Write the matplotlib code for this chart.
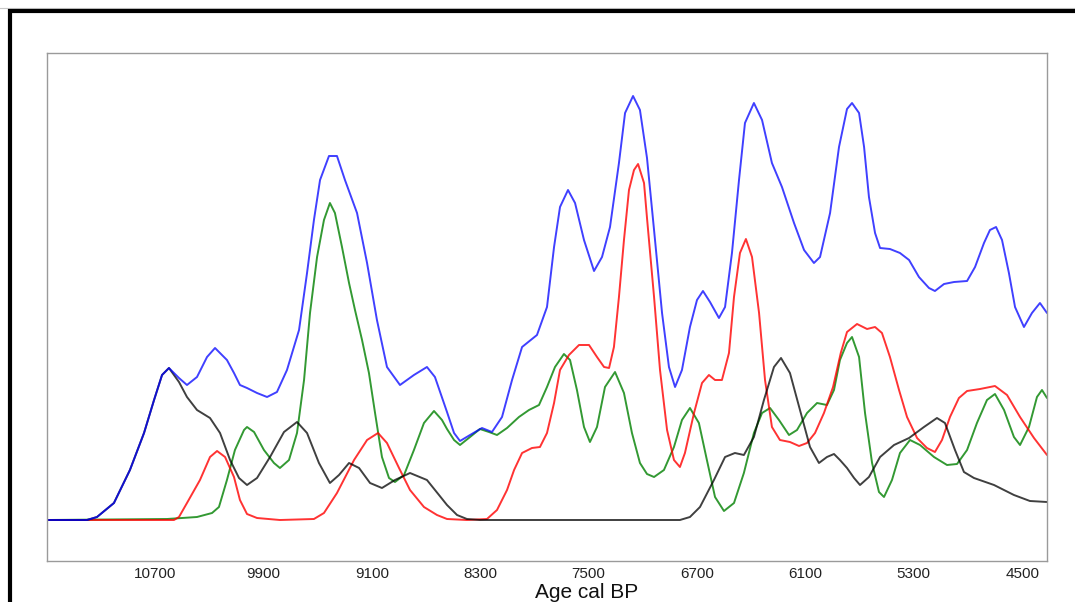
import matplotlib
matplotlib.use("Agg")
import matplotlib.pyplot as plt
from matplotlib.lines import Line2D

plt.rcParams['font.family'] = ['Liberation Sans', 'DejaVu Sans']

# ---- data (age cal BP scale, values = relative summed probability) ----
tick_positions = [10700, 9900, 9100, 8300, 7500, 6700, 5900, 5100, 4300]
tick_labels = ['10700', '9900', '9100', '8300', '7500', '6700', '6100', '5300', '4500']

blue_age = [11497, 11349, 11202, 11128, 11003, 10885, 10781, 10707, 10648, 10597,
            10523, 10464, 10390, 10316, 10257, 10169, 10117, 10073, 10021, 9947,
            9873, 9800, 9726, 9637, 9578, 9527, 9482, 9416, 9357, 9298,
            9209, 9135, 9062, 8988, 8892, 8789, 8693, 8634, 8545, 8493,
            8449, 8375, 8287, 8213, 8139, 8065, 7991, 7881, 7807, 7755,
            7711, 7652, 7600, 7534, 7460, 7401, 7342, 7276, 7231, 7172,
            7121, 7069, 7017, 6958, 6907, 6862, 6811, 6752, 6700, 6656,
            6604, 6538, 6493, 6442, 6390, 6346, 6280, 6220, 6147, 6073,
            5984, 5910, 5837, 5792, 5718, 5652, 5593, 5556, 5504, 5467,
            5431, 5386, 5349, 5276, 5202, 5135, 5062, 4988, 4944, 4877,
            4803, 4707, 4648, 4582, 4538, 4493, 4449, 4398, 4353, 4287,
            4228, 4169, 4117]
blue_val = [0, 0, 0, 0.03, 0.17, 0.50, 0.87, 1.20, 1.45, 1.52,
            1.42, 1.35, 1.43, 1.63, 1.72, 1.60, 1.47, 1.35, 1.32, 1.27,
            1.23, 1.28, 1.50, 1.90, 2.47, 3.00, 3.40, 3.64, 3.64, 3.40,
            3.07, 2.57, 2.00, 1.53, 1.35, 1.45, 1.53, 1.43, 1.08, 0.87,
            0.79, 0.85, 0.92, 0.88, 1.03, 1.40, 1.73, 1.85, 2.13, 2.73,
            3.13, 3.30, 3.17, 2.80, 2.49, 2.63, 2.93, 3.57, 4.07, 4.24,
            4.10, 3.62, 2.90, 2.07, 1.53, 1.33, 1.50, 1.93, 2.20, 2.29,
            2.18, 2.02, 2.13, 2.67, 3.40, 3.97, 4.17, 4.00, 3.57, 3.33,
            2.97, 2.70, 2.57, 2.63, 3.07, 3.73, 4.11, 4.17, 4.07, 3.73,
            3.23, 2.87, 2.72, 2.71, 2.67, 2.60, 2.43, 2.32, 2.29, 2.36,
            2.38, 2.39, 2.53, 2.77, 2.90, 2.93, 2.80, 2.47, 2.13, 1.93,
            2.07, 2.17, 2.07]

black_age = [11497, 11349, 11202, 11128, 11003, 10885, 10781, 10707, 10648, 10597,
             10523, 10464, 10390, 10294, 10220, 10146, 10080, 10021, 9947, 9851,
             9748, 9652, 9578, 9490, 9409, 9342, 9268, 9194, 9113, 9025,
             8929, 8818, 8693, 8604, 8545, 8471, 8398, 8302, 7563, 6826,
             6752, 6678, 6575, 6493, 6420, 6354, 6280, 6206, 6132, 6080,
             6014, 5940, 5866, 5800, 5741, 5689, 5645, 5593, 5541, 5497,
             5431, 5349, 5246, 5135, 5025, 4929, 4870, 4796, 4730, 4656,
             4508, 4361, 4243, 4117]
black_val = [0, 0, 0, 0.03, 0.17, 0.50, 0.87, 1.20, 1.45, 1.52,
             1.38, 1.23, 1.10, 1.02, 0.87, 0.60, 0.42, 0.35, 0.42, 0.63,
             0.88, 0.98, 0.87, 0.57, 0.37, 0.45, 0.57, 0.52, 0.37, 0.32,
             0.40, 0.47, 0.40, 0.25, 0.15, 0.05, 0.01, 0, 0, 0,
             0.03, 0.13, 0.40, 0.63, 0.67, 0.65, 0.83, 1.20, 1.53, 1.62,
             1.47, 1.10, 0.73, 0.57, 0.63, 0.66, 0.60, 0.52, 0.42, 0.35,
             0.43, 0.63, 0.75, 0.82, 0.93, 1.02, 0.97, 0.70, 0.48, 0.42,
             0.35, 0.25, 0.19, 0.18]

red_age = [11497, 10560, 10523, 10464, 10368, 10294, 10242, 10183, 10117, 10073,
           10021, 9947, 9778, 9527, 9453, 9357, 9231, 9135, 9054, 8988,
           8899, 8818, 8715, 8619, 8545, 8398, 8250, 8176, 8102, 8050,
           7991, 7918, 7859, 7807, 7755, 7711, 7645, 7571, 7497, 7438,
           7386, 7349, 7313, 7276, 7239, 7202, 7165, 7135, 7091, 7069,
           7017, 6973, 6921, 6870, 6826, 6789, 6722, 6663, 6612, 6567,
           6516, 6464, 6427, 6383, 6339, 6294, 6242, 6198, 6147, 6088,
           6014, 5947, 5888, 5829, 5763, 5696, 5639, 5593, 5519, 5445,
           5386, 5335, 5276, 5209, 5150, 5076, 5003, 4944, 4892, 4833,
           4767, 4707, 4611, 4501, 4412, 4316, 4213, 4117]
red_val = [0, 0, 0.03, 0.17, 0.40, 0.63, 0.69, 0.63, 0.43, 0.20,
           0.06, 0.02, 0, 0.01, 0.07, 0.27, 0.60, 0.80, 0.87, 0.77,
           0.52, 0.30, 0.13, 0.05, 0.01, 0, 0.01, 0.10, 0.30, 0.50,
           0.67, 0.72, 0.73, 0.87, 1.17, 1.50, 1.65, 1.75, 1.75, 1.63,
           1.53, 1.52, 1.73, 2.23, 2.80, 3.30, 3.50, 3.56, 3.37, 3.02,
           2.23, 1.50, 0.90, 0.60, 0.53, 0.67, 1.07, 1.37, 1.45, 1.40,
           1.40, 1.67, 2.23, 2.67, 2.81, 2.63, 2.07, 1.40, 0.93, 0.80,
           0.78, 0.74, 0.77, 0.87, 1.07, 1.33, 1.67, 1.88, 1.96, 1.91,
           1.93, 1.87, 1.63, 1.30, 1.03, 0.82, 0.72, 0.68, 0.80, 1.03,
           1.22, 1.29, 1.31, 1.34, 1.25, 1.03, 0.82, 0.65]

green_age = [11497, 10611, 10390, 10279, 10228, 10169, 10110, 10043, 10021, 9969,
             9896, 9822, 9778, 9711, 9652, 9600, 9556, 9504, 9453, 9409,
             9372, 9320, 9268, 9224, 9172, 9121, 9076, 9025, 8973, 8929,
             8862, 8789, 8715, 8641, 8582, 8545, 8493, 8449, 8375, 8302,
             8235, 8176, 8102, 8014, 7940, 7866, 7807, 7748, 7682, 7637,
             7586, 7534, 7490, 7438, 7379, 7305, 7239, 7180, 7121, 7069,
             7017, 6944, 6870, 6811, 6752, 6686, 6627, 6567, 6501, 6427,
             6354, 6280, 6220, 6161, 6095, 6021, 5962, 5888, 5814, 5741,
             5689, 5645, 5593, 5556, 5504, 5460, 5408, 5357, 5320, 5261,
             5202, 5128, 5054, 4951, 4855, 4781, 4707, 4634, 4560, 4501,
             4434, 4361, 4316, 4250, 4191, 4154, 4117]
green_val = [0, 0.01, 0.03, 0.07, 0.13, 0.40, 0.70, 0.90, 0.93, 0.88,
             0.70, 0.57, 0.52, 0.60, 0.87, 1.40, 2.07, 2.63, 3.00, 3.17,
             3.07, 2.73, 2.37, 2.10, 1.80, 1.47, 1.07, 0.63, 0.42, 0.38,
             0.45, 0.70, 0.97, 1.09, 1.00, 0.91, 0.80, 0.75, 0.83, 0.91,
             0.88, 0.85, 0.92, 1.03, 1.10, 1.15, 1.33, 1.53, 1.66, 1.60,
             1.30, 0.93, 0.78, 0.93, 1.33, 1.48, 1.27, 0.87, 0.57, 0.46,
             0.43, 0.50, 0.73, 1.00, 1.12, 0.97, 0.60, 0.23, 0.09, 0.17,
             0.47, 0.87, 1.07, 1.12, 1.00, 0.85, 0.90, 1.07, 1.17, 1.15,
             1.30, 1.60, 1.77, 1.83, 1.63, 1.07, 0.57, 0.28, 0.23, 0.40,
             0.67, 0.80, 0.75, 0.63, 0.55, 0.56, 0.70, 0.97, 1.20, 1.26,
             1.10, 0.83, 0.75, 0.93, 1.23, 1.30, 1.22]

# ---- figure ----
W, H = 1075, 602
fig = plt.figure(figsize=(W / 100, H / 100), dpi=100)
ax = fig.add_axes([47 / W, 1 - 561 / H, 1000 / W, 508 / H])

line_kw = dict(lw=1.4, solid_joinstyle='round', solid_capstyle='round')
ax.plot(green_age, green_val, color='#008000', alpha=0.8, **line_kw)
ax.plot(red_age, red_val, color='#ff0000', alpha=0.8, **line_kw)
ax.plot(black_age, black_val, color='#000000', alpha=0.75, **line_kw)
ax.plot(blue_age, blue_val, color='#0000ff', alpha=0.75, **line_kw)

ax.set_xlim(11497, 4117)
ax.set_ylim(-0.41, 4.67)
ax.set_xticks(tick_positions)
ax.set_xticklabels(tick_labels, fontsize=11, color='#222222')
ax.set_yticks([])
ax.tick_params(axis='x', length=0, pad=4)
for s in ax.spines.values():
    s.set_color('#9a9a9a')
    s.set_linewidth(1.0)

ax.set_xlabel('Age cal BP', fontsize=15, color='#111111')
ax.xaxis.set_label_coords(0.54, -0.044)

# outer frame (partially visible, as in the reference)
fig.add_artist(Line2D([0, 1], [1 - 7.5 / H, 1 - 7.5 / H], color='#c8c8c8', lw=0.8,
                      transform=fig.transFigure))
fig.add_artist(Line2D([9.5 / W, 9.5 / W, 1], [0, 1 - 10.5 / H, 1 - 10.5 / H],
                      color='black', lw=3.0, transform=fig.transFigure,
                      solid_joinstyle='miter'))

fig.savefig('out.png', dpi=100)
